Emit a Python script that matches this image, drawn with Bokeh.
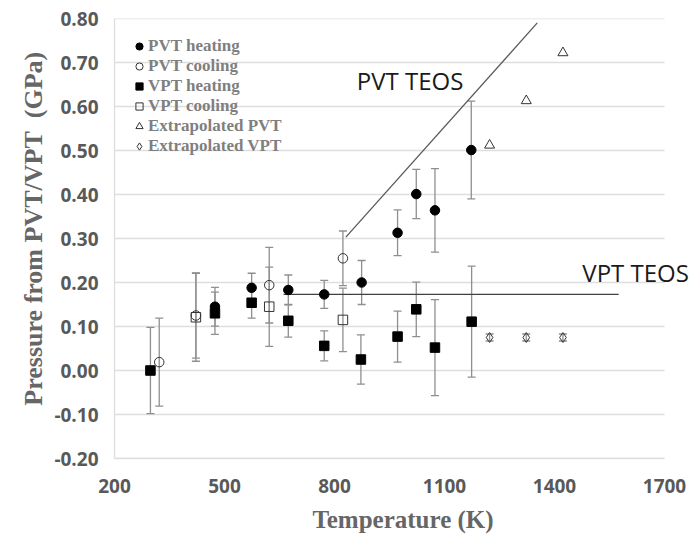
from bokeh.plotting import figure
from bokeh.models import (ColumnDataSource, Whisker, TeeHead, Legend, LegendItem,
                          Label, FixedTicker, NumeralTickFormatter, Range1d)
from bokeh.embed import file_html
from bokeh.resources import INLINE

# ---------------- data ----------------
pvt_heat_T = [474, 574, 674, 772, 874, 972, 1023, 1074, 1173]
pvt_heat_P = [0.145, 0.188, 0.183, 0.173, 0.200, 0.313, 0.401, 0.364, 0.501]
pvt_heat_err = [0.044, 0.033, 0.034, 0.032, 0.050, 0.052, 0.056, 0.095, 0.111]

pvt_cool_T = [322, 422, 622, 823]
pvt_cool_P = [0.019, 0.125, 0.194, 0.255]
pvt_cool_err = [0.100, 0.097, 0.086, 0.062]

vpt_heat_T = [298, 474, 574, 674, 772, 872, 972, 1023, 1074, 1174]
vpt_heat_P = [0.000, 0.130, 0.154, 0.113, 0.056, 0.025, 0.077, 0.139, 0.052, 0.111]
vpt_heat_err = [0.098, 0.048, 0.035, 0.037, 0.034, 0.056, 0.058, 0.062, 0.109, 0.126]

vpt_cool_T = [422, 622, 823]
vpt_cool_P = [0.121, 0.145, 0.115]
vpt_cool_err = [0.100, 0.090, 0.072]

ext_pvt_T = [1223, 1323, 1423]
ext_pvt_P = [0.512, 0.613, 0.722]

ext_vpt_T = [1223, 1323, 1423]
ext_vpt_P = [0.075, 0.075, 0.075]
ext_vpt_err = [0.008, 0.008, 0.008]

pvt_teos_T = [831, 1353]
pvt_teos_P = [0.303, 0.790]
vpt_teos_T = [661, 1575]
vpt_teos_P = [0.173, 0.173]

x_ticks = [200, 500, 800, 1100, 1400, 1700]
y_ticks = [-0.2, -0.1, 0.0, 0.1, 0.2, 0.3, 0.4, 0.5, 0.6, 0.7, 0.8]

X_MIN, X_MAX = 200, 1700
Y_MIN, Y_MAX = -0.2, 0.8

# frame runs to the right edge of the page so the "VPT TEOS" label is not clipped;
# the axis and grid stop at X_MAX like in the reference
X_VIEW_MAX = X_MAX + 27 * (X_MAX - X_MIN) / 550.0

# ---------------- figure ----------------
p = figure(width=691, height=535, x_range=Range1d(X_MIN, X_VIEW_MAX), y_range=Range1d(Y_MIN, Y_MAX),
           output_backend="svg", toolbar_location=None,
           min_border_left=114, min_border_right=0, min_border_top=18, min_border_bottom=76)
p.outline_line_color = None
p.background_fill_color = "white"

GRID = "#dedede"
p.xgrid.visible = False
p.ygrid.visible = False
p.segment(x0=[X_MIN] * len(y_ticks), x1=[X_MAX] * len(y_ticks), y0=y_ticks, y1=y_ticks,
          line_color=GRID, line_width=1.3, level="underlay")

for ax in (p.xaxis[0], p.yaxis[0]):
    ax.axis_line_color = GRID
    ax.axis_line_width = 1.3
    ax.major_tick_line_color = None
    ax.minor_tick_line_color = None
    ax.major_tick_in = 0
    ax.major_tick_out = 0
    ax.major_label_text_font = "Open Sans"
    ax.major_label_text_font_style = "bold"
    ax.major_label_text_font_size = "19px"
    ax.major_label_text_color = "#595959"
    ax.axis_label_text_font = "Liberation Serif"
    ax.axis_label_text_font_style = "bold"
    ax.axis_label_text_color = "#666666"

p.xaxis.bounds = (X_MIN, X_MAX)
p.xaxis.ticker = FixedTicker(ticks=x_ticks)
p.yaxis.ticker = FixedTicker(ticks=y_ticks)
p.yaxis.formatter = NumeralTickFormatter(format="0.00")
p.xaxis.axis_label = "Temperature (K)"
p.yaxis.axis_label = "\u00a0\u00a0\u00a0Pressure from PVT/VPT\u00a0 (GPa)"
p.xaxis.axis_label_text_font_size = "25px"
p.yaxis.axis_label_text_font_size = "26px"
p.xaxis.major_label_standoff = 20
p.yaxis.major_label_standoff = 16
p.xaxis.axis_label_standoff = 10
p.yaxis.axis_label_standoff = 3

ERR = "#8f8f8f"


def add_err(T, P, E):
    src = ColumnDataSource(dict(x=T, lo=[a - b for a, b in zip(P, E)], hi=[a + b for a, b in zip(P, E)]))
    w = Whisker(base="x", lower="lo", upper="hi", source=src, line_color=ERR, line_width=1.3,
                lower_head=TeeHead(size=8, line_color=ERR, line_width=1.3),
                upper_head=TeeHead(size=8, line_color=ERR, line_width=1.3))
    p.add_layout(w)


add_err(pvt_heat_T, pvt_heat_P, pvt_heat_err)
add_err(pvt_cool_T, pvt_cool_P, pvt_cool_err)
add_err(vpt_heat_T, vpt_heat_P, vpt_heat_err)
add_err(vpt_cool_T, vpt_cool_P, vpt_cool_err)
add_err(ext_vpt_T, ext_vpt_P, ext_vpt_err)

# TEOS lines
p.line(pvt_teos_T, pvt_teos_P, line_color="#595959", line_width=1.3)
p.line(vpt_teos_T, vpt_teos_P, line_color="#404040", line_width=1.3)

r1 = p.scatter(pvt_heat_T, pvt_heat_P, marker="circle", size=9.5, fill_color="black", line_color="black")
r2 = p.scatter(pvt_cool_T, pvt_cool_P, marker="circle", size=9.5, fill_color=None, line_color="#333333", line_width=1)
r3 = p.scatter(vpt_heat_T, vpt_heat_P, marker="square", size=9.5, fill_color="black", line_color="black")
r4 = p.scatter(vpt_cool_T, vpt_cool_P, marker="square", size=9.5, fill_color=None, line_color="#333333", line_width=1)
r5 = p.scatter(ext_pvt_T, ext_pvt_P, marker="triangle", size=10, fill_color=None, line_color="#333333", line_width=1)
r6 = p.scatter(ext_vpt_T, ext_vpt_P, marker="diamond", size=10, fill_color=None, line_color="#333333", line_width=1)

legend = Legend(items=[LegendItem(label="PVT heating", renderers=[r1]),
                       LegendItem(label="PVT cooling", renderers=[r2]),
                       LegendItem(label="VPT heating", renderers=[r3]),
                       LegendItem(label="VPT cooling", renderers=[r4]),
                       LegendItem(label="Extrapolated PVT", renderers=[r5]),
                       LegendItem(label="Extrapolated VPT", renderers=[r6])],
                location=(16, 302), orientation="vertical",
                background_fill_alpha=0, border_line_color=None,
                padding=0, spacing=0, margin=0,
                glyph_width=18, glyph_height=20, label_height=20, label_standoff=0,
                label_text_font="Liberation Serif", label_text_font_style="bold",
                label_text_font_size="17px", label_text_color="#7f7f7f")
p.add_layout(legend)

p.add_layout(Label(x=861, y=0.660, text="PVT TEOS", text_font="Open Sans", text_font_size="24px",
                   text_color="#1a1a1a", text_baseline="middle", text_align="left"))
p.add_layout(Label(x=1476, y=0.222, text="VPT TEOS", text_font="Open Sans", text_font_size="24px",
                   text_color="#1a1a1a", text_baseline="middle", text_align="left"))

open("out.html", "w").write(file_html(p, INLINE))
